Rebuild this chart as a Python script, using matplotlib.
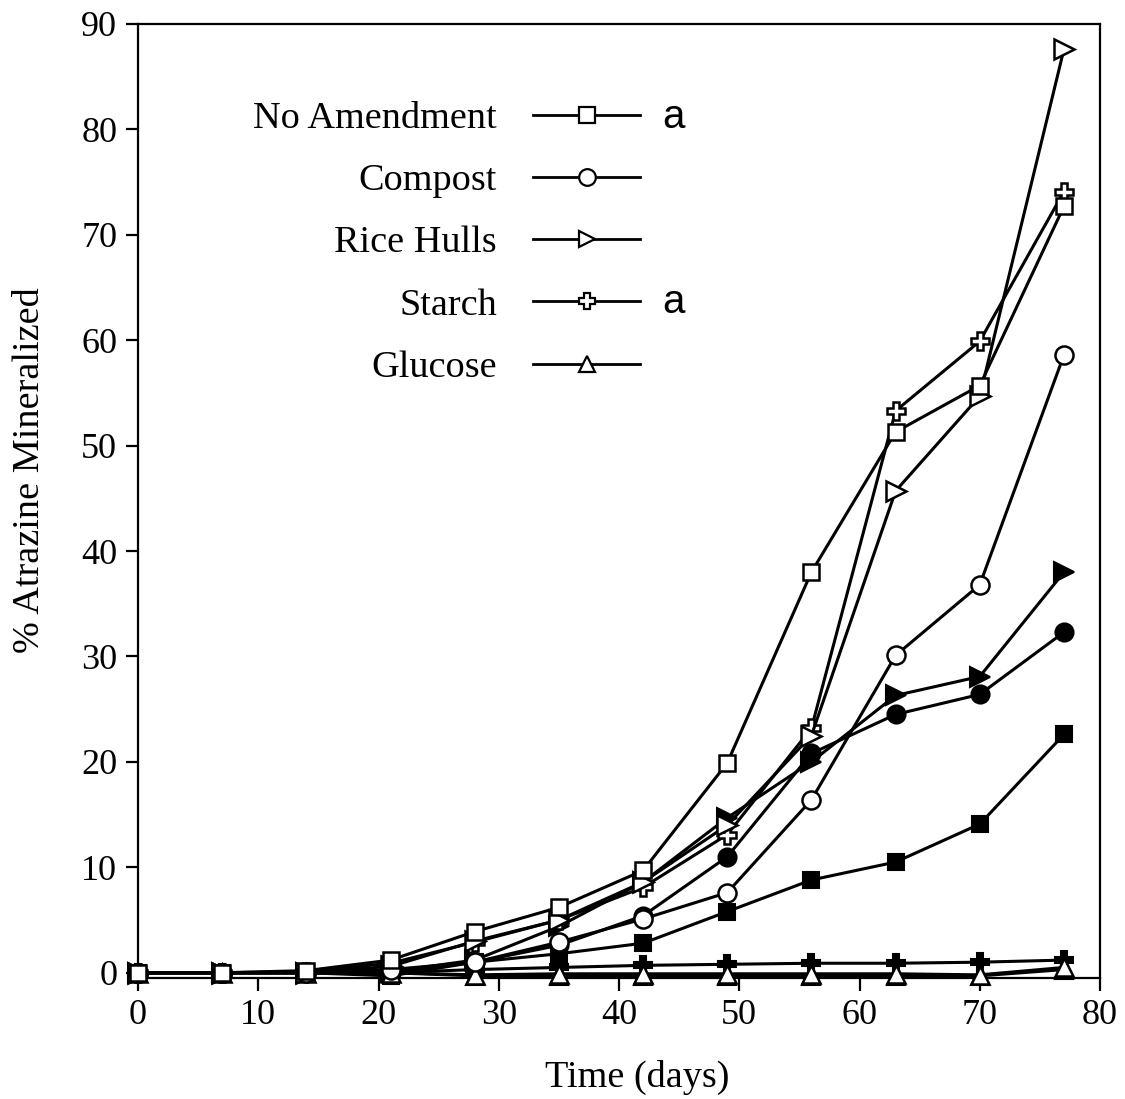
import matplotlib.pyplot as plt
from matplotlib.lines import Line2D

# Sampling days
days = [0, 7, 14, 21, 28, 35, 42, 49, 56, 63, 70, 77]

# Open symbols (legend series)
no_amendment = [0, 0, 0.2, 1.2, 3.9, 6.2, 9.7, 19.9, 38.0, 51.3, 55.7, 72.7]
compost = [0, 0, 0, 0.3, 1.0, 2.9, 5.1, 7.6, 16.4, 30.1, 36.8, 58.6]
rice_hulls = [0, 0, 0, 0.6, 3.0, 5.0, 8.6, 14.0, 22.5, 45.7, 54.7, 87.6]
starch = [0, 0, 0.1, 0.9, 2.9, 5.0, 8.1, 13.1, 23.2, 53.3, 59.9, 74.1]
glucose = [0, 0, 0, 0, -0.2, -0.1, -0.1, -0.1, -0.1, -0.1, -0.2, 0.5]

# Filled symbols
no_amendment_f = [0, 0, 0, -0.3, 1.0, 1.8, 2.8, 5.8, 8.8, 10.5, 14.1, 22.6]
compost_f = [0, 0, 0, 0, 1.0, 2.6, 5.4, 11.0, 20.8, 24.5, 26.4, 32.3]
rice_hulls_f = [0, 0, 0, 0.1, 1.2, 4.4, 8.6, 14.7, 20.0, 26.3, 28.1, 38.0]
starch_f = [0, 0, 0, 0, 0.3, 0.5, 0.7, 0.8, 0.9, 0.9, 1.0, 1.2]
glucose_f = [0, 0, 0, 0, -0.3, -0.3, -0.3, -0.3, -0.3, -0.3, -0.3, 0.3]

labels = ['No Amendment', 'Compost', 'Rice Hulls', 'Starch', 'Glucose']
markers = ['s', 'o', '>', 'P', '^']
open_series = [no_amendment, compost, rice_hulls, starch, glucose]
filled_series = [no_amendment_f, compost_f, rice_hulls_f, starch_f, glucose_f]
letters = ['a', '', '', 'a', '']

plt.rcParams['font.family'] = ['Liberation Serif', 'DejaVu Serif']

fig = plt.figure(figsize=(11.25, 10.99), dpi=100)
ax = fig.add_axes([0.1227, 0.1101, 0.8551, 0.8681])

sizes = {'s': 12, 'o': 13, '>': 14, 'P': 13, '^': 13}

# filled series first, open on top
for ys, mk in zip(filled_series, markers):
    ax.plot(days, ys, color='black', lw=2.2, marker=mk, ms=sizes[mk],
            mfc='black', mec='black', mew=1.5, clip_on=False, zorder=3)
for ys, mk in zip(open_series[::-1], markers[::-1]):
    ax.plot(days, ys, color='black', lw=2.2, marker=mk, ms=sizes[mk],
            mfc='white', mec='black', mew=1.8, clip_on=False, zorder=4)

ax.set_xlim(0, 80)
ax.set_ylim(-0.5, 90)
ax.set_xticks(range(0, 81, 10))
ax.set_yticks(range(0, 91, 10))
ax.tick_params(direction='out', length=9, width=1.6, labelsize=26, pad=6)
for s in ax.spines.values():
    s.set_linewidth(1.6)

ax.set_xlabel('Time (days)', fontsize=27.5)
ax.set_ylabel('% Atrazine Mineralized', fontsize=27.5)
ax.xaxis.set_label_coords(0.519, -0.086)
ax.yaxis.set_label_coords(-0.095, 0.5325)

handles = [Line2D([], [], color='black', lw=2, marker=mk, ms=12,
                  mfc='white', mec='black', mew=1.6) for mk in markers]
ax.legend(handles, labels, loc='upper right', bbox_to_anchor=(0.522, 0.919),
          frameon=False, markerfirst=False, fontsize=27.5, handlelength=2.8,
          handletextpad=0.95, labelspacing=0.72, borderpad=0, borderaxespad=0)

row_y = [0.9025, 0.8385, 0.7715, 0.7086, 0.6400]
for txt, yy in zip(letters, row_y):
    if txt:
        ax.text(0.557, yy, txt, transform=ax.transAxes, fontsize=29,
                family='Liberation Sans', ha='center', va='center')

fig.savefig('out.png', dpi=100)
